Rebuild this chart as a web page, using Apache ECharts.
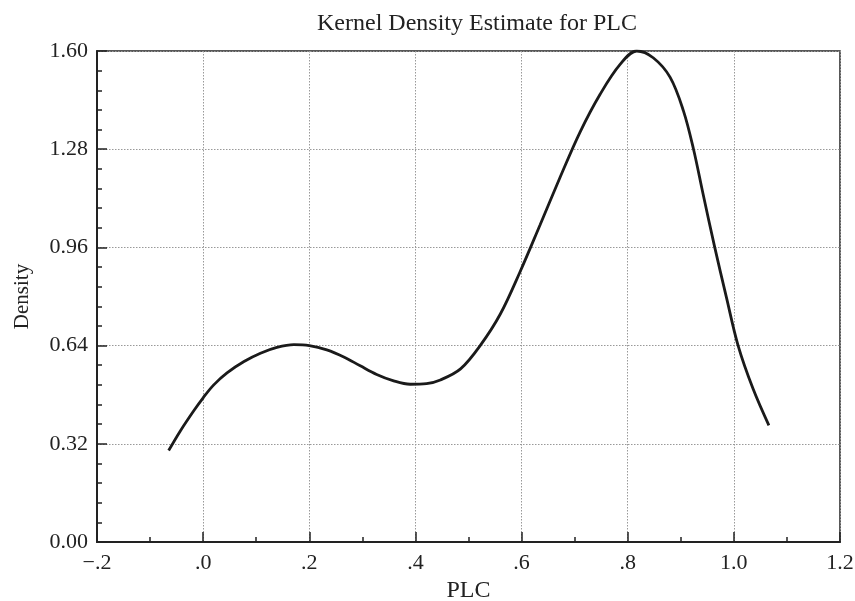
<!DOCTYPE html>
<html>
<head>
<meta charset="utf-8">
<script src="https://cdn.jsdelivr.net/npm/echarts@6/dist/echarts.min.js"></script>
<style>
html,body{margin:0;padding:0;background:#fff;}
#chart{width:855px;height:601px;}
</style>
</head>
<body>
<div id="chart"></div>
<script>
// Data
const plcValues = [-0.065, -0.043, -0.018, 0.000, 0.020, 0.045, 0.077, 0.108, 0.139, 0.171, 0.200, 0.233, 0.265, 0.296, 0.327, 0.359, 0.390, 0.421, 0.447, 0.485, 0.522, 0.560, 0.597, 0.635, 0.673, 0.710, 0.748, 0.786, 0.817, 0.848, 0.880, 0.905, 0.924, 0.942, 0.964, 0.986, 1.008, 1.036, 1.066];
const densityValues = [0.298, 0.362, 0.427, 0.470, 0.512, 0.551, 0.588, 0.615, 0.634, 0.643, 0.640, 0.626, 0.603, 0.574, 0.546, 0.525, 0.514, 0.516, 0.528, 0.564, 0.640, 0.743, 0.880, 1.034, 1.190, 1.335, 1.459, 1.557, 1.600, 1.578, 1.514, 1.405, 1.280, 1.134, 0.960, 0.797, 0.640, 0.500, 0.380];
const xTickLabels = ['\u2212.2', '.0', '.2', '.4', '.6', '.8', '1.0', '1.2'];
const yTickLabels = ['0.00', '0.32', '0.64', '0.96', '1.28', '1.60'];
const chartTitle = 'Kernel Density Estimate for PLC';
const xName = 'PLC';
const yName = 'Density';

const xMin = -0.2, xMax = 1.2, xStep = 0.2;
const yMin = 0, yMax = 1.6, yStep = 0.32;

const points = plcValues.map((x, i) => [x, densityValues[i]]);
const font = 'Liberation Serif, Times New Roman, serif';

const chart = echarts.init(document.getElementById('chart'), null, {renderer: 'canvas'});
chart.setOption({
  animation: false,
  backgroundColor: '#fff',
  title: {
    text: chartTitle,
    left: 472, top: 7, textAlign: 'center',
    textStyle: {fontFamily: font, fontSize: 24, fontWeight: 'normal', color: '#222'}
  },
  grid: {
    left: 97, right: 15, top: 51, bottom: 59,
    containLabel: false, outerBoundsMode: 'none',
    show: true, borderColor: '#222', borderWidth: 1.5, backgroundColor: 'transparent'
  },
  xAxis: {
    type: 'value', min: xMin, max: xMax, interval: xStep,
    name: xName, nameLocation: 'middle', nameGap: 37,
    nameTextStyle: {fontFamily: font, fontSize: 24, color: '#222'},
    axisLine: {show: true, onZero: false, lineStyle: {color: '#222', width: 2}},
    axisTick: {show: true, inside: true, length: 10, lineStyle: {color: '#222', width: 1.5}},
    minorTick: {show: true, splitNumber: 2, length: 5, lineStyle: {color: '#222', width: 1.5}},
    axisLabel: {
      fontFamily: font, fontSize: 22, color: '#222', margin: 10,
      formatter: v => xTickLabels[Math.round((v - xMin) / xStep)] || ''
    },
    splitLine: {show: true, lineStyle: {color: '#999', type: [1.5, 1.5], width: 1}}
  },
  yAxis: {
    type: 'value', min: yMin, max: yMax, interval: yStep,
    name: yName, nameLocation: 'middle', nameGap: 64, nameRotate: 90,
    nameTextStyle: {fontFamily: font, fontSize: 21, color: '#222'},
    axisLine: {show: true, onZero: false, lineStyle: {color: '#222', width: 2}},
    axisTick: {show: true, inside: true, length: 10, lineStyle: {color: '#222', width: 1.5}},
    minorTick: {show: true, splitNumber: 5, length: 5, lineStyle: {color: '#222', width: 1.5}},
    axisLabel: {
      fontFamily: font, fontSize: 22, color: '#222', margin: 9,
      formatter: v => yTickLabels[Math.round((v - yMin) / yStep)] || ''
    },
    splitLine: {show: true, lineStyle: {color: '#999', type: [1.5, 1.5], width: 1}}
  },
  series: [{
    type: 'line',
    data: points,
    smooth: 0.35,
    showSymbol: false,
    lineStyle: {color: '#1a1a1a', width: 2.8},
    z: 5
  }]
});
</script>
</body>
</html>
